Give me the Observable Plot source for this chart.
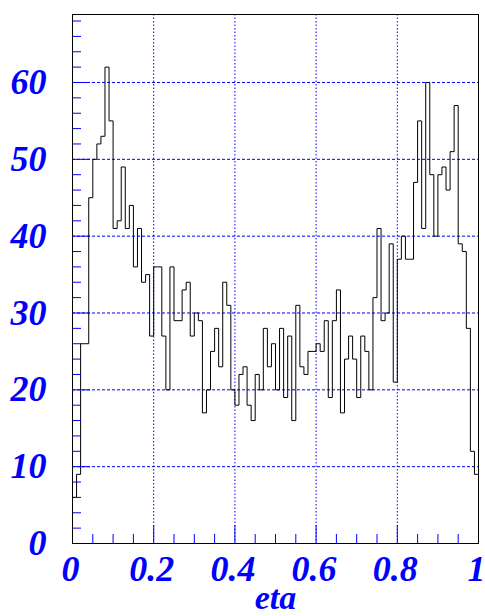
<!DOCTYPE html>
<html>
<head>
<meta charset="utf-8">
<script src="https://cdn.jsdelivr.net/npm/d3@7"></script>
<script src="https://cdn.jsdelivr.net/npm/@observablehq/plot@0.6"></script>
<style>
  html, body { margin: 0; padding: 0; background: #fff; }
  #chart svg text { font-family: "Liberation Serif", "Times New Roman", serif; font-style: italic; font-weight: bold; }
</style>
</head>
<body>
<div id="chart"></div>
<script>
// Histogram of eta: 100 bins on [0, 1]
const binCounts = [
  6, 9, 26, 26, 45, 50, 52, 53, 62, 55,
  41, 42, 49, 41, 44, 36, 41, 34, 35, 27,
  36, 36, 27, 20, 36, 29, 29, 33, 34, 27,
  30, 29, 17, 20, 25, 28, 23, 34, 31, 20,
  18, 22, 23, 18, 16, 22, 20, 28, 23, 26,
  20, 28, 19, 27, 16, 31, 23, 22, 25, 25,
  26, 25, 29, 19, 29, 33, 17, 24, 27, 24,
  19, 27, 25, 20, 32, 41, 29, 30, 39, 21,
  37, 40, 37, 37, 47, 55, 41, 60, 48, 40,
  48, 49, 46, 51, 57, 39, 38, 28, 12, 9
];
const xMin = 0, xMax = 1;
const binWidth = 0.01;

const xMajor = [0, 0.2, 0.4, 0.6, 0.8, 1];
const xMinor = [0.05, 0.1, 0.15, 0.25, 0.3, 0.35, 0.45, 0.5, 0.55, 0.65, 0.7, 0.75, 0.85, 0.9, 0.95];
const xGrid = [0.2, 0.4, 0.6, 0.8];
const yMajor = [0, 10, 20, 30, 40, 50, 60];
const yMinor = [2, 4, 6, 8, 12, 14, 16, 18, 22, 24, 26, 28, 32, 34, 36, 38, 42, 44, 46, 48, 52, 54, 56, 58, 62, 64, 66, 68];
const yGrid = [10, 20, 30, 40, 50, 60];
const yMax = 68.85;
const xTitle = "eta";

// step outline (ROOT-style histogram)
const steps = [{x: xMin, y: 0}];
binCounts.forEach((c, i) => steps.push({x: xMin + i * binWidth, y: c}));
steps.push({x: xMax, y: binCounts[binCounts.length - 1]});
steps.push({x: xMax, y: 0});

const W = 485, H = 616, mL = 72, mR = 7, mT = 14, mB = 73;
const plotW = W - mL - mR, plotH = H - mT - mB;
const blue = "#0000ff";

const chart = Plot.plot({
  width: W, height: H,
  marginLeft: mL, marginRight: mR, marginTop: mT, marginBottom: mB,
  x: {domain: [xMin, xMax], axis: null},
  y: {domain: [0, yMax], axis: null},
  marks: [
    Plot.ruleY(yGrid, {stroke: blue, strokeWidth: 1, strokeDasharray: "3,2"}),
    Plot.ruleX(xGrid, {stroke: blue, strokeWidth: 1, strokeDasharray: "1.5,2"}),
    Plot.line(steps, {x: "x", y: "y", curve: "step-after", stroke: "black", strokeWidth: 1}),
    Plot.tickY(yMinor, {y: d => d, stroke: blue, insetRight: plotW - 9}),
    Plot.tickY(yMajor, {y: d => d, stroke: blue, insetRight: plotW - 18}),
    Plot.tickX(xMinor, {x: d => d, stroke: blue, insetTop: plotH - 9}),
    Plot.tickX(xMajor, {x: d => d, stroke: blue, insetTop: plotH - 18}),
    Plot.frame({stroke: "black", strokeWidth: 1}),
    Plot.axisY(yMajor, {tickSize: 0, tickPadding: 26, fontSize: 36, fill: blue, tickFormat: d => String(d), label: null}),
    Plot.axisX(xMajor, {tickSize: 0, tickPadding: 12, fontSize: 36, fill: blue, tickFormat: d => String(d), label: null, dx: -2}),
    Plot.text([xTitle], {frameAnchor: "bottom", text: d => d, dy: 54.5, fontSize: 34, fill: blue, lineAnchor: "middle"})
  ]
});
document.getElementById("chart").appendChild(chart);
</script>
</body>
</html>
